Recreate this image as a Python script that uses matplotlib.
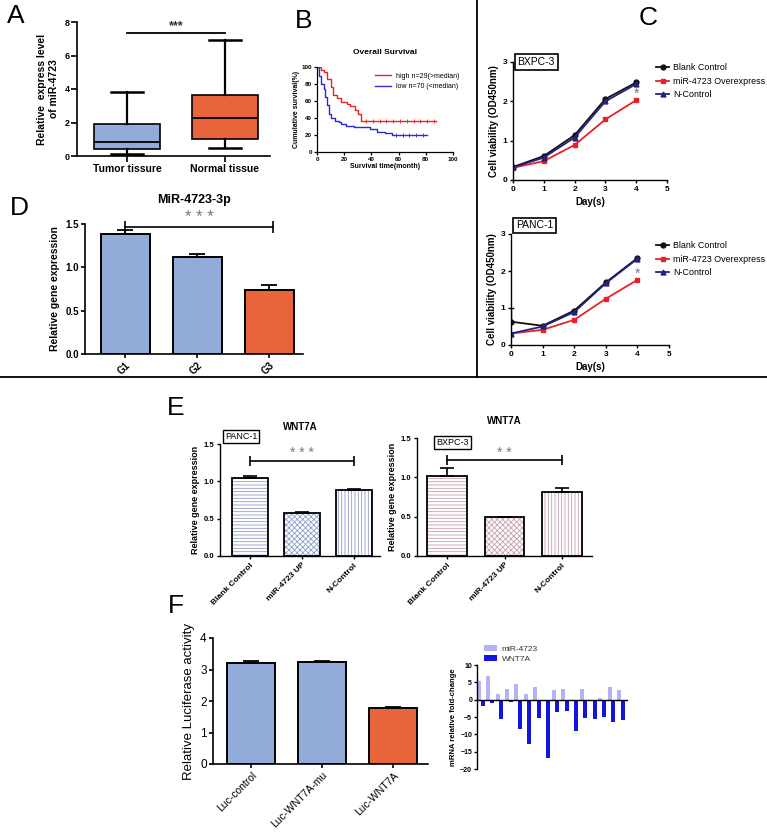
# -*- coding: utf-8 -*-
"""
Multi-panel figure: miR-4723 expression, survival, cell viability, WNT7A
"""
import numpy as np
import matplotlib
matplotlib.use('Agg')
import matplotlib.pyplot as plt
from matplotlib.lines import Line2D

plt.rcParams['font.family'] = ['Liberation Sans', 'DejaVu Sans']
plt.rcParams['font.weight'] = 'bold'
plt.rcParams['axes.labelweight'] = 'bold'
plt.rcParams['axes.titleweight'] = 'bold'
plt.rcParams['hatch.linewidth'] = 0.6

W, H = 767, 833

# ============================  Data  =====================================
# -- A: box plot
box_labels = ['Tumor tissure', 'Normal tissue']
box_med = [0.85, 2.25]
box_q1 = [0.40, 1.00]
box_q3 = [1.90, 3.62]
box_lo = [0.10, 0.50]
box_hi = [3.80, 6.90]

# -- B: survival curves
high_t = [0, 3, 5, 7, 10, 12, 15, 18, 22, 24.5, 28, 30.5, 32.5, 87.5]
high_p = [100, 97, 94, 86, 76, 67, 63, 59, 56, 54, 49, 45, 37, 37]
low_t = [0, 1.7, 3, 5, 6, 7.4, 9, 10.5, 13, 16, 18, 21, 27, 34, 39, 44, 50, 55, 81]
low_p = [100, 90, 80, 74, 65, 55, 45, 40, 37, 35, 33, 31, 29.5, 29, 27, 24, 22, 20, 20]
high_censor = [36, 41, 46, 51, 56, 61, 66, 71, 76, 81, 86]
low_censor = [58, 63, 68, 73, 78]

# -- C: cell viability
days = [0, 1, 2, 3, 4]
bx_blank = [0.33, 0.61, 1.14, 2.06, 2.48]
bx_mir = [0.31, 0.48, 0.89, 1.54, 2.03]
bx_nc = [0.32, 0.57, 1.08, 2.00, 2.44]
pc_blank = [0.63, 0.52, 0.93, 1.69, 2.35]
pc_blank_err = [0.36, 0, 0, 0, 0]
pc_mir = [0.31, 0.41, 0.68, 1.25, 1.76]
pc_nc = [0.31, 0.50, 0.89, 1.67, 2.33]
curve_names = ['Blank Control', 'miR-4723 Overexpress', 'N-Control']

# -- D
d_groups = ['G1', 'G2', 'G3']
d_vals = [1.38, 1.12, 0.74]
d_err = [0.05, 0.03, 0.06]

# -- E
e_groups = ['Blank Control', 'miR-4723 UP', 'N-Control']
e_panc = [1.04, 0.57, 0.89]
e_panc_err = [0.03, 0.02, 0.01]
e_bxpc = [1.02, 0.49, 0.81]
e_bxpc_err = [0.10, 0.01, 0.05]

# -- F
f_groups = ['Luc-control', 'Luc-WNT7A-mu', 'Luc-WNT7A']
f_vals = [3.22, 3.24, 1.77]
f_err = [0.04, 0.04, 0.03]
mir_fc = [5.4, 6.9, 1.5, 3.2, 4.5, 1.7, 3.7, 0.0, 2.9, 3.2, 0.0, 3.2, 0.0, 0.6, 3.7, 2.7]
wnt_fc = [-1.9, -1.0, -5.7, -0.7, -8.4, -12.8, -5.2, -16.7, -3.7, -3.4, -8.9,
          -5.2, -5.7, -5.0, -6.3, -6.0]

BLUE = '#93ABD8'
ORANGE = '#E8643B'


# ============================  Helpers  ==================================
def px_axes(fig, x0, y0, x1, y1):
    """ axes from pixel box (top-left origin) """
    return fig.add_axes([x0 / W, 1 - y1 / H, (x1 - x0) / W, (y1 - y0) / H])


def gp_style(ax, fs, lw=1.2, tl=3):
    for s in ['top', 'right']:
        ax.spines[s].set_visible(False)
    for s in ['left', 'bottom']:
        ax.spines[s].set_linewidth(lw)
    ax.tick_params(direction='out', length=tl, width=lw, labelsize=fs, pad=1.5)


def err_up(ax, x, v, e, cap=5, lw=1.3):
    ax.errorbar(x, v, yerr=[np.zeros(len(e)), e], fmt='none', ecolor='k',
                elinewidth=lw, capsize=cap, capthick=lw, zorder=4)


def bracket(ax, x0, x1, y, txt, ty, fs=11, ms=7):
    ax.plot([x0, x1], [y, y], color='k', lw=1.2, marker='|', ms=ms, mew=1.2,
            clip_on=False)
    ax.text((x0 + x1) / 2, ty, txt, ha='center', va='center', fontsize=fs,
            color='#777777', fontweight='normal', clip_on=False)


def letter(fig, x, y, s):
    fig.text(x / W, 1 - y / H, s, fontsize=19, fontweight='normal',
             ha='center', va='center')


# ============================  Figure  ===================================
fig = plt.figure(figsize=(W / 100, H / 100), dpi=100)

# ---- A
ax = px_axes(fig, 77, 22, 270, 156)
stats = [dict(med=m, q1=a, q3=b, whislo=lo, whishi=hi, label=l)
         for m, a, b, lo, hi, l in zip(box_med, box_q1, box_q3, box_lo, box_hi, box_labels)]
bp = ax.bxp(stats, positions=[1, 2], widths=0.67, patch_artist=True,
            showfliers=False, boxprops=dict(linewidth=1.2),
            medianprops=dict(color='k', linewidth=1.3),
            whiskerprops=dict(linewidth=1.6), capprops=dict(linewidth=1.8),
            capwidths=0.33)
for patch, c in zip(bp['boxes'], [BLUE, ORANGE]):
    patch.set_facecolor(c)
ax.set_xlim(0.49, 2.46)
ax.set_ylim(0, 8)
ax.set_yticks([0, 2, 4, 6, 8])
gp_style(ax, 6.5, tl=4)
ax.tick_params(axis='x', labelsize=7.5)
ax.set_ylabel('Relative  express level\nof miR-4723', fontsize=7.5, labelpad=4)
ax.plot([1.0, 2.0], [7.35, 7.35], color='k', lw=1.3, clip_on=False)
ax.text(1.5, 7.75, '***', ha='center', va='center', fontsize=9, color='#333333')

# ---- B
ax = px_axes(fig, 317, 67, 453, 152)
ax.step(high_t, high_p, where='post', color='#E8242B', lw=1.0,
        label='high n=29(>median)')
ax.step(low_t, low_p, where='post', color='#2A2ACF', lw=1.0,
        label='low n=70 (<median)')
ax.plot(high_censor, [37] * len(high_censor), ls='none', marker='|', ms=2.5,
        color='#E8242B', mew=0.6)
ax.plot(low_censor, [20] * len(low_censor), ls='none', marker='|', ms=2.5,
        color='#2A2ACF', mew=0.6)
ax.set_xlim(0, 100)
ax.set_ylim(0, 100)
ax.set_xticks(range(0, 101, 20))
ax.set_yticks(range(0, 101, 20))
gp_style(ax, 4.5, lw=0.9, tl=2)
ax.set_title('Overall Survival', fontsize=6, pad=9)
ax.set_xlabel('Survival time(month)', fontsize=5, labelpad=1)
ax.set_ylabel('Cumulative survival(%)', fontsize=5, labelpad=1)
leg = ax.legend(loc='upper right', bbox_to_anchor=(1.08, 0.98), fontsize=5,
                frameon=False, handlelength=2.2, borderpad=0.1, labelspacing=0.5)
for t in leg.get_texts():
    t.set_fontweight('normal')

# ---- C
c_sets = [((513, 62, 667, 180), bx_blank, bx_mir, bx_nc, None, 'BXPC-3', 1.0, 2.2, 59),
          ((511, 234, 669, 345), pc_blank, pc_mir, pc_nc, pc_blank_err, 'PANC-1', 1.077, 1.92, 237)]
for box, blank, mir, nc, berr, name, ny, sy, ly in c_sets:
    ax = px_axes(fig, *box)
    ax.plot(days, blank, color='#111111', marker='o', ms=3.5, lw=1.3, label=curve_names[0])
    if berr is not None:
        ax.errorbar(days[:1], blank[:1], yerr=[[0], berr[:1]], fmt='none', ecolor='#111111',
                    elinewidth=1.0, capsize=2.5, capthick=1.0)
    ax.plot(days, mir, color='#E8202A', marker='s', ms=3.5, lw=1.3, label=curve_names[1])
    ax.plot(days, nc, color='#23237F', marker='^', ms=3.5, lw=1.3, label=curve_names[2])
    ax.text(4, sy, '*', ha='center', va='center', fontsize=10, color='#777777',
            fontweight='normal')
    ax.set_xlim(0, 5)
    ax.set_ylim(0, 3)
    ax.set_xticks(range(6))
    ax.set_yticks([0, 1, 2, 3])
    gp_style(ax, 6, lw=1.0, tl=2.5)
    ax.set_xlabel('Day(s)', fontsize=7, labelpad=3)
    ax.set_ylabel('Cell viability (OD450nm)', fontsize=7, labelpad=3)
    ax.text(0.03, ny, name, transform=ax.transAxes, fontsize=7.5, fontweight='normal',
            va='center', ha='left',
            bbox=dict(boxstyle='square,pad=0.25', fc='white', ec='k', lw=1.2))
    leg = ax.legend(loc='upper left', bbox_to_anchor=(652 / W, 1 - ly / H),
                    bbox_transform=fig.transFigure, fontsize=6.4, frameon=False,
                    handlelength=1.4, handletextpad=0.5, labelspacing=0.5, borderpad=0)
    for t in leg.get_texts():
        t.set_fontweight('normal')

# ---- D
ax = px_axes(fig, 85, 224, 303, 354)
xd = np.arange(len(d_groups))
ax.bar(xd, d_vals, width=0.68, color=[BLUE, BLUE, ORANGE], edgecolor='k', lw=1.4, zorder=3)
err_up(ax, xd, d_vals, d_err, cap=6)
ax.set_xlim(-0.56, 2.47)
ax.set_ylim(0, 1.5)
ax.set_yticks([0, 0.5, 1.0, 1.5])
ax.set_xticks(xd)
ax.set_xticklabels(d_groups, rotation=45, ha='right', rotation_mode='anchor')
gp_style(ax, 7, lw=1.2)
ax.set_ylabel('Relative gene expression', fontsize=7.5, labelpad=4)
ax.set_title('MiR-4723-3p', fontsize=9, pad=15)
bracket(ax, 0, 2.05, 1.47, '* * *', 1.57, fs=12, ms=9)

# ---- E
e_sets = [((220, 444, 380, 556), e_panc, e_panc_err, '#8C9DCA', 'PANC-1', 0.03, 1.067,
           (-0.58, 2.5), 1.27, 1.38, '* * *'),
          ((417, 438, 592, 556), e_bxpc, e_bxpc_err, '#C7A0A8', 'BXPC-3', 0.11, 0.96,
           (-0.52, 2.52), 1.22, 1.31, '* *')]
hatches = ['-----', 'xxxxxx', '|||||']
for box, vals, errs, hc, name, nx, ny, xl, by, sy, stars in e_sets:
    ax = px_axes(fig, *box)
    xe = np.arange(len(e_groups))
    for xi, v, h in zip(xe, vals, hatches):
        ax.bar(xi, v, width=0.68, color='white', edgecolor=hc, lw=0, hatch=h, zorder=2)
    ax.bar(xe, vals, width=0.68, fill=False, edgecolor='k', lw=1.3, zorder=3)
    err_up(ax, xe, vals, errs, cap=5, lw=1.2)
    ax.set_xlim(*xl)
    ax.set_ylim(0, 1.5)
    ax.set_yticks([0, 0.5, 1.0, 1.5])
    ax.set_xticks(xe)
    ax.set_xticklabels(e_groups, rotation=45, ha='right', rotation_mode='anchor')
    gp_style(ax, 5.5, lw=1.0, tl=2.5)
    ax.tick_params(axis='x', labelsize=6)
    ax.set_ylabel('Relative gene expression', fontsize=6.5, labelpad=3)
    ax.set_title('WNT7A', fontsize=7, pad=10)
    ax.text(nx, ny, name, transform=ax.transAxes, fontsize=6.5, fontweight='normal',
            va='center', ha='left',
            bbox=dict(boxstyle='square,pad=0.25', fc='white', ec='k', lw=1.0))
    bracket(ax, 0, 2, by, stars, sy, fs=10, ms=7)

# ---- F left
ax = px_axes(fig, 213, 638, 428, 764)
xf = np.arange(len(f_groups))
ax.bar(xf, f_vals, width=0.68, color=[BLUE, BLUE, ORANGE], edgecolor='k', lw=1.4, zorder=3)
err_up(ax, xf, f_vals, f_err, cap=6)
ax.set_xlim(-0.54, 2.49)
ax.set_ylim(0, 4)
ax.set_yticks([0, 1, 2, 3, 4])
ax.set_xticks(xf)
ax.set_xticklabels(f_groups, rotation=45, ha='right', rotation_mode='anchor')
gp_style(ax, 8.5, lw=1.2)
for lab in ax.get_xticklabels() + ax.get_yticklabels():
    lab.set_fontweight('normal')
ax.tick_params(axis='x', labelsize=7.5)
ax.set_ylabel('Relative Luciferase activity', fontsize=9.5, fontweight='normal', labelpad=4)

# ---- F right
ax = px_axes(fig, 477, 665, 627, 769)
xp = np.arange(len(mir_fc))
ax.bar(xp - 0.2, mir_fc, width=0.42, color='#B3B3F5', label='miR-4723')
ax.bar(xp + 0.2, wnt_fc, width=0.42, color='#1414DC', label='WNT7A')
ax.set_xlim(-0.42, 15.66)
ax.set_ylim(-20, 10)
ax.set_yticks([10, 5, 0, -5, -10, -15, -20])
gp_style(ax, 5, lw=1.0, tl=2)
ax.spines['bottom'].set_position(('data', 0))
ax.set_xticks([])
ax.set_ylabel('mRNA relative fold-change', fontsize=5.5, labelpad=2)
leg = ax.legend(loc='lower left', bbox_to_anchor=(0.02, 0.98), fontsize=6, frameon=False,
                handlelength=1.5, handleheight=0.9, labelspacing=0.2, borderpad=0,
                handletextpad=0.6)
for t in leg.get_texts():
    t.set_fontweight('normal')
    t.set_color('#333333')

# ---- panel letters and separators
letter(fig, 16, 16, 'A')
letter(fig, 304, 21, 'B')
letter(fig, 648, 18, 'C')
letter(fig, 19, 208, 'D')
letter(fig, 176, 408, 'E')
letter(fig, 176, 606, 'F')
fig.add_artist(Line2D([477 / W, 477 / W], [1, 1 - 377 / H], transform=fig.transFigure,
                      color='k', lw=1.3))
fig.add_artist(Line2D([0, 1], [1 - 377 / H, 1 - 377 / H], transform=fig.transFigure,
                      color='k', lw=1.3))

plt.savefig('out.png', dpi=100)
